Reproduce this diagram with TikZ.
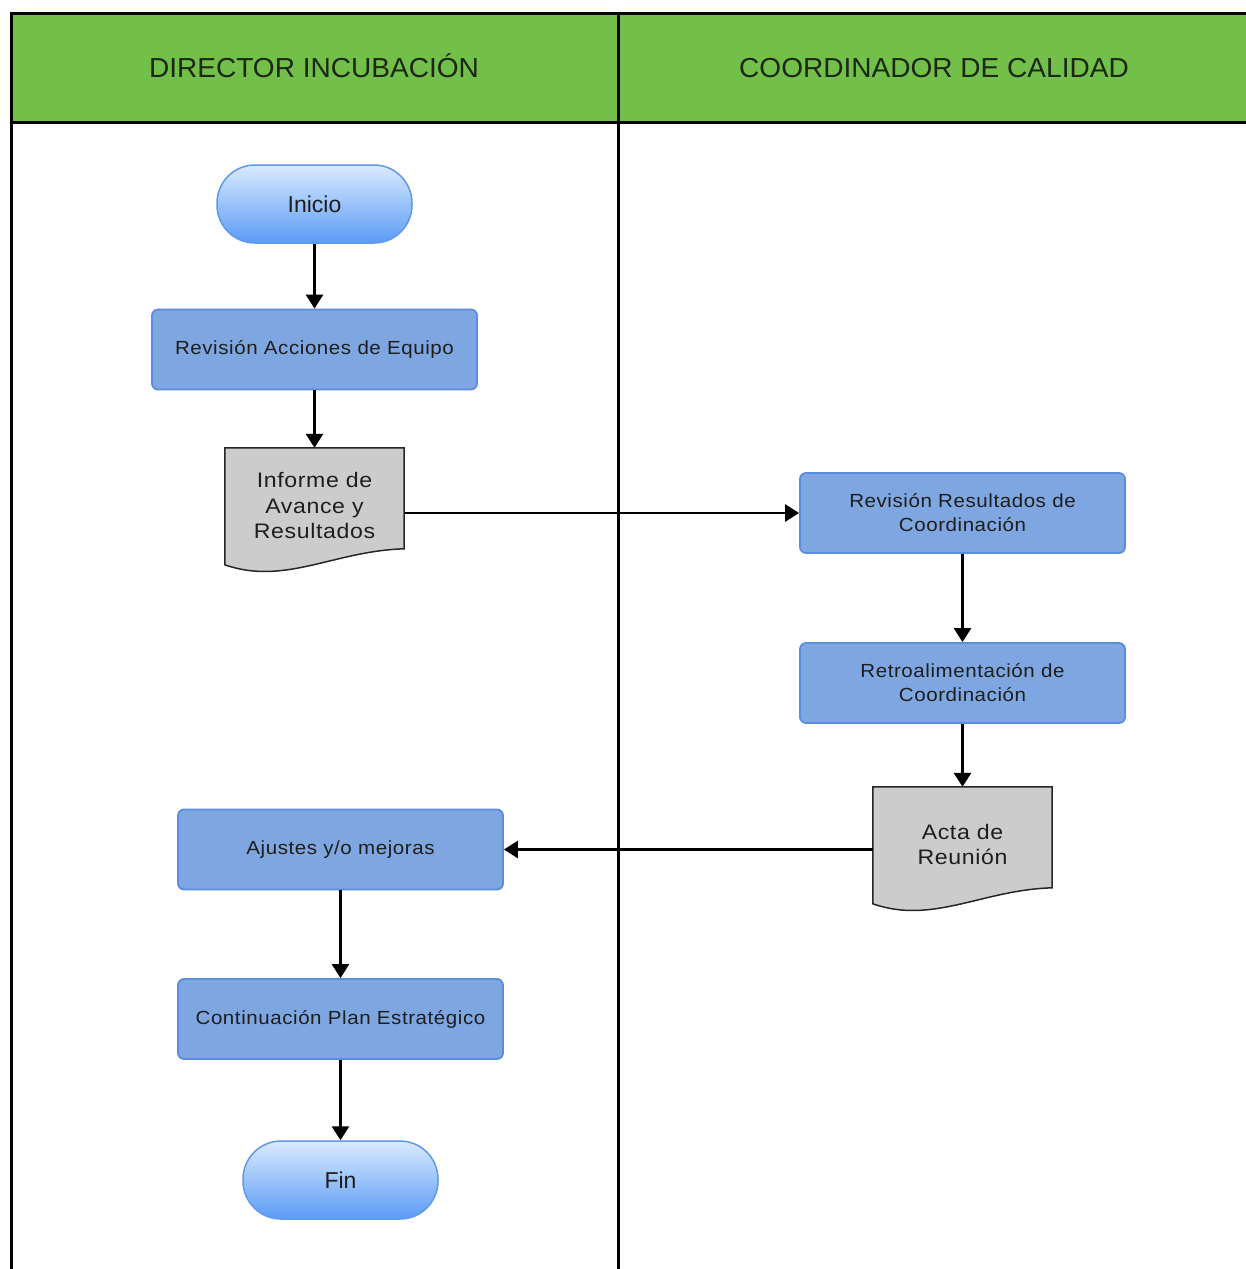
\documentclass[tikz,border=0pt]{standalone}
\usepackage{fontspec}
\setmainfont{Liberation Sans}
\newfontfamily\hdfont{Liberation Sans}[FakeStretch=1.02]
\newfontfamily\pfont{Liberation Sans}[FakeStretch=1.08,LetterSpace=3]
\newfontfamily\dfont{Liberation Sans}[FakeStretch=1.1,LetterSpace=3]
\usetikzlibrary{arrows.meta,calc}
\definecolor{lanegreen}{RGB}{114,191,74}
\definecolor{procfill}{RGB}{126,166,224}
\definecolor{procborder}{RGB}{91,140,222}
\definecolor{termtop}{RGB}{218,234,255}
\definecolor{termbot}{RGB}{91,155,245}
\definecolor{termborder}{RGB}{96,152,236}
\definecolor{docfill}{RGB}{204,204,204}
\definecolor{textdark}{RGB}{30,30,30}
\definecolor{headtext}{RGB}{28,40,20}
\pgfdeclarelayer{bg}
\pgfsetlayers{bg,main}
\newcommand\docoutline[1]{%
  \draw[docdraw] (#1.north west) -- (#1.north east) -- ([yshift=-101pt]#1.north east)
    .. controls ([xshift=-70pt,yshift=-103pt]#1.north east) and ([xshift=60pt,yshift=-138pt]#1.north west)
    .. ([yshift=-117pt]#1.north west) -- cycle;}
\begin{document}
\begin{tikzpicture}[x=1pt,y=-1pt,
  lane/.style={line width=3pt, draw=black},
  lanetitle/.style={anchor=base, inner sep=0pt, font=\hdfont\fontsize{27.5}{30}\selectfont, text=headtext},
  proc/.style={draw=procborder, line width=1.8pt, fill=procfill, rounded corners=6pt,
    minimum width=325pt, minimum height=80pt, inner sep=0pt, align=center,
    font=\pfont\fontsize{19}{24}\selectfont, text=textdark},
  term/.style={draw=termborder, line width=1.5pt, top color=termtop, bottom color=termbot,
    rounded corners=38pt, minimum width=195pt, minimum height=78pt, inner sep=0pt,
    font=\fontsize{23}{27}\selectfont, text=textdark},
  docn/.style={minimum width=179pt, minimum height=125pt, inner sep=0pt},
  doclabel/.style={align=center, yshift=5pt, inner sep=0pt,
    font=\dfont\fontsize{21}{25.5}\selectfont, text=textdark},
  docdraw/.style={draw=black!85, line width=1.5pt, fill=docfill},
  conn/.style={line width=2.7pt, draw=black, -{Triangle[length=14pt,width=17pt]}}
]
\useasboundingbox (0,0) rectangle (1246,1269);
% lanes
\fill[lanegreen] (11,13) rectangle (1250,122);
\draw[lane] (1250,13) -- (11,13) -- (11,1275);
\draw[lane] (11,122) -- (1250,122);
\draw[lane] (618,13) -- (618,1275);
\node[lanetitle] (t1) at (314,77) {DIRECTOR INCUBACIÓN};
\node[lanetitle] (t2) at (934,77) {COORDINADOR DE CALIDAD};
% nodes
\node[term] (ini) at (314.5,204) {Inicio};
\node[proc] (rae) at (314.5,349.5) {Revisión Acciones de Equipo};
\node[docn, label={[doclabel]center:{Informe de\\Avance y\\Resultados}}] (inf) at (314.5,510.5) {};
\node[proc] (rrc) at (962.5,513) {Revisión Resultados de\\Coordinación};
\node[proc] (ret) at (962.5,683) {Retroalimentación de\\Coordinación};
\node[docn, label={[doclabel]center:{Acta de\\Reunión}}] (act) at (962.5,849.5) {};
\node[proc] (aju) at (340.5,849.5) {Ajustes y/o mejoras};
\node[proc] (con) at (340.5,1019) {Continuación Plan Estratégico};
\node[term] (fin) at (340.5,1180) {Fin};
\begin{pgfonlayer}{bg}
\docoutline{inf}
\docoutline{act}
\end{pgfonlayer}
% connectors
\draw[conn] (ini.south) -- (rae.north);
\draw[conn] (rae.south) -- (inf.north);
\draw[conn] (inf.east |- rrc.west) -- (rrc.west);
\draw[conn] (rrc.south) -- (ret.north);
\draw[conn] (ret.south) -- (act.north);
\draw[conn] (act.west) -- (aju.east);
\draw[conn] (aju.south) -- (con.north);
\draw[conn] (con.south) -- (fin.north);
\end{tikzpicture}
\end{document}
